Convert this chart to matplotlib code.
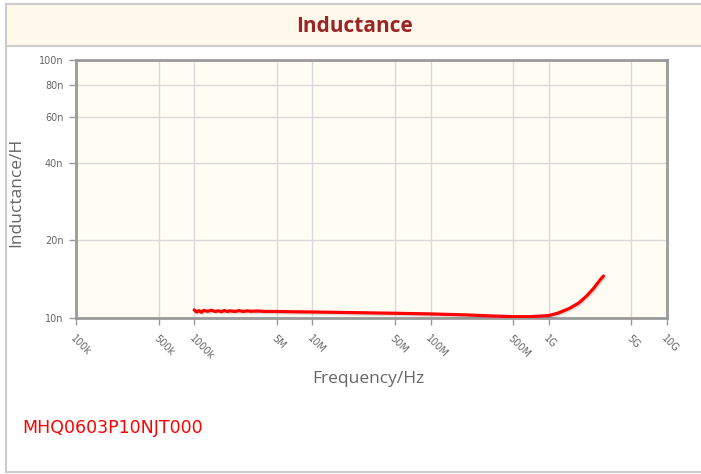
import matplotlib
matplotlib.use('Agg')
import matplotlib.pyplot as plt
import matplotlib.patheffects as pe
import matplotlib.transforms as mtransforms
from matplotlib.patches import Rectangle
import numpy as np

# data (frequency in Hz, inductance in nH)
freq = [1.0e6, 1.05e6, 1.1e6, 1.15e6, 1.2e6, 1.3e6, 1.4e6, 1.5e6, 1.6e6,
        1.7e6, 1.8e6, 1.9e6, 2.0e6, 2.2e6, 2.4e6, 2.6e6, 2.8e6, 3.0e6,
        3.5e6, 4.0e6, 5.0e6, 7.0e6, 1.0e7, 2.0e7, 5.0e7, 1.0e8, 2.0e8,
        3.0e8, 5.0e8, 7.0e8, 1.0e9, 1.2e9, 1.5e9, 1.8e9, 2.1e9, 2.4e9,
        2.7e9, 2.9e9]
ind_nh = [10.75, 10.55, 10.68, 10.52, 10.70, 10.62, 10.72, 10.60, 10.66,
          10.58, 10.69, 10.60, 10.66, 10.60, 10.68, 10.60, 10.66, 10.62,
          10.64, 10.60, 10.60, 10.57, 10.55, 10.50, 10.43, 10.37, 10.28,
          10.20, 10.12, 10.12, 10.22, 10.45, 10.90, 11.45, 12.20, 13.05,
          14.00, 14.55]

x_ticks = [1e5, 5e5, 1e6, 5e6, 1e7, 5e7, 1e8, 5e8, 1e9, 5e9, 1e10]
x_labels = ['100k', '500k', '1000k', '5M', '10M', '50M', '100M', '500M',
            '1G', '5G', '10G']
y_ticks = [10e-9, 20e-9, 40e-9, 60e-9, 80e-9, 100e-9]
y_labels = ['10n', '20n', '40n', '60n', '80n', '100n']

part_name = 'MHQ0603P10NJT000'

W, H = 701, 474
fig = plt.figure(figsize=(W / 100, H / 100), dpi=100)
fig.patch.set_facecolor('white')

# outer frame and title band
fig.add_artist(Rectangle((6 / W, 1 - 472 / H), 1.0, (472 - 4) / H,
                         transform=fig.transFigure, facecolor='white',
                         edgecolor='#cccccc', lw=1.5, zorder=0))
fig.add_artist(Rectangle((6 / W, 1 - 46 / H), 1.0, (46 - 4) / H,
                         transform=fig.transFigure, facecolor='#fff9ec',
                         edgecolor='#cccccc', lw=1.5, zorder=0))
fig.text(355 / W, 1 - 26 / H, 'Inductance', ha='center', va='center',
         fontsize=15, fontweight='bold', color='#9b2424',
         family='Open Sans')

ax = fig.add_axes([76 / W, 1 - 318 / H, (667 - 76) / W, (318 - 60) / H])
ax.set_facecolor('#fffcf3')
ax.set_xscale('log')
ax.set_yscale('log')
ax.set_xlim(1e5, 1e10)
ax.set_ylim(1e-8, 1e-7)

ind = np.array(ind_nh) * 1e-9
ax.plot(freq, ind, color='#ff0000', lw=2.3, solid_capstyle='round',
        path_effects=[pe.SimpleLineShadow(offset=(1, -1), shadow_color='black',
                                          alpha=0.12),
                      pe.Normal()], zorder=5)

ax.set_xticks(x_ticks)
ax.set_xticklabels(x_labels)
ax.set_yticks(y_ticks)
ax.set_yticklabels(y_labels)
ax.minorticks_off()
ax.grid(True, color='#d9d9d9', lw=1)
ax.set_axisbelow(True)

ax.tick_params(axis='both', colors='#999999', length=5, width=1,
               labelcolor='#666666', labelsize=7)
shift = mtransforms.ScaledTranslation(4 / 100, 0, fig.dpi_scale_trans)
for lab in ax.get_xticklabels():
    lab.set_rotation(-45)
    lab.set_ha('left')
    lab.set_va('top')
    lab.set_rotation_mode('anchor')
    lab.set_transform(lab.get_transform() + shift)
ax.tick_params(axis='x', pad=6)
ax.tick_params(axis='y', pad=4)

for s in ax.spines.values():
    s.set_color('#9a9a9a')
    s.set_linewidth(2)

fig.text(368 / W, 1 - 379 / H, 'Frequency/Hz', ha='center', va='center',
         fontsize=12.5, color='#666666', family='Open Sans')
fig.text(16 / W, 1 - 192 / H, 'Inductance/H', ha='center', va='center',
         rotation=90, fontsize=12.5, color='#666666', family='Open Sans')

fig.text(22 / W, 1 - 428 / H, part_name, ha='left', va='center',
         fontsize=12.5, color='#ff0000', family='DejaVu Sans')

fig.savefig('out.png', dpi=100)
